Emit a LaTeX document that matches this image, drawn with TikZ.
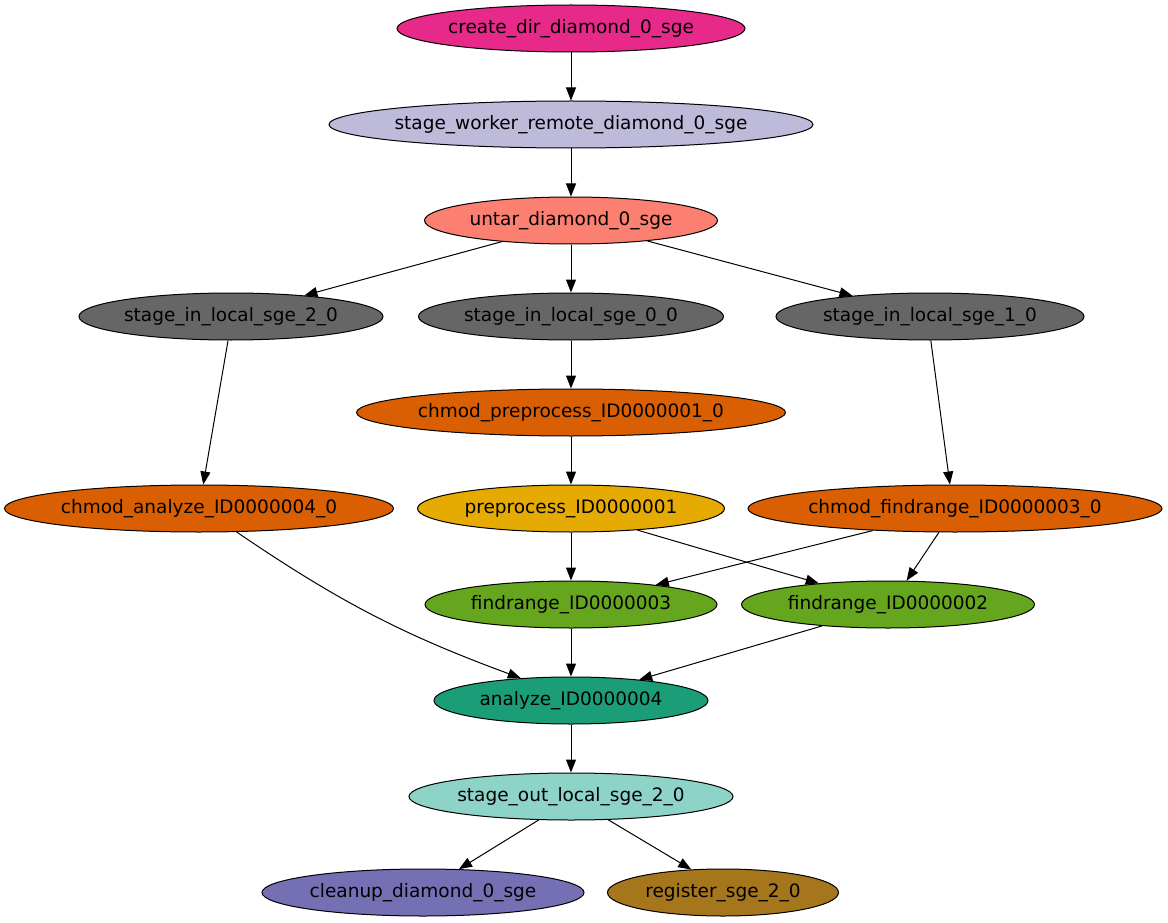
\documentclass[tikz,border=0pt]{standalone}
\usepackage{fontspec}
\setmainfont{DejaVu Sans}
\usetikzlibrary{shapes.geometric,arrows.meta}
\definecolor{cPink}{HTML}{E7298A}
\definecolor{cLav}{HTML}{BEBADA}
\definecolor{cSalmon}{HTML}{FB8072}
\definecolor{cGray}{HTML}{666666}
\definecolor{cOrange}{HTML}{D95F02}
\definecolor{cYellow}{HTML}{E6AB02}
\definecolor{cGreen}{HTML}{66A61E}
\definecolor{cTeal}{HTML}{1B9E77}
\definecolor{cMint}{HTML}{8DD3C7}
\definecolor{cPurple}{HTML}{7570B3}
\definecolor{cBrown}{HTML}{A6761D}
\tikzset{
  gnode/.style={ellipse, draw=black, line width=1pt, inner sep=0pt, minimum height=47pt},
  lbl/.style={font=\fontsize{18.5}{22}\selectfont, text=black, inner sep=0pt},
  every label/.style={lbl},
  edge/.style={line width=1pt, draw=black, -{Triangle[length=13pt,width=10pt]}}
}
\begin{document}
\begin{tikzpicture}[x=1pt,y=-1pt]
\useasboundingbox (0,0) rectangle (1168,923);
\fill[white] (0,0) rectangle (1168,923);

\node[gnode, fill=cPink, minimum width=348pt, label=center:create\_dir\_diamond\_0\_sge] (n1) at (571,28.5) {};
\node[gnode, fill=cLav, minimum width=484pt, label=center:stage\_worker\_remote\_diamond\_0\_sge] (n2) at (571,124.5) {};
\node[gnode, fill=cSalmon, minimum width=293pt, label=center:untar\_diamond\_0\_sge] (n3) at (571,220.5) {};
\node[gnode, fill=cGray, minimum width=304pt, label=center:stage\_in\_local\_sge\_2\_0] (n4) at (231,316.5) {};
\node[gnode, fill=cGray, minimum width=305pt, label=center:stage\_in\_local\_sge\_0\_0] (n5) at (571,316.5) {};
\node[gnode, fill=cGray, minimum width=308pt, label=center:stage\_in\_local\_sge\_1\_0] (n6) at (930,316.5) {};
\node[gnode, fill=cOrange, minimum width=429pt, label=center:chmod\_preprocess\_ID0000001\_0] (n7) at (571,412.5) {};
\node[gnode, fill=cOrange, minimum width=389pt, label=center:chmod\_analyze\_ID0000004\_0] (n8) at (199,508.5) {};
\node[gnode, fill=cYellow, minimum width=307pt, label=center:preprocess\_ID0000001] (n9) at (571,508.5) {};
\node[gnode, fill=cOrange, minimum width=414pt, label=center:chmod\_findrange\_ID0000003\_0] (n10) at (955,508.5) {};
\node[gnode, fill=cGreen, minimum width=292pt, label=center:findrange\_ID0000003] (n11) at (571,604.5) {};
\node[gnode, fill=cGreen, minimum width=293pt, label=center:findrange\_ID0000002] (n12) at (888,604.5) {};
\node[gnode, fill=cTeal, minimum width=274pt, label=center:analyze\_ID0000004] (n13) at (571,700.5) {};
\node[gnode, fill=cMint, minimum width=324pt, label=center:stage\_out\_local\_sge\_2\_0] (n14) at (571,796.5) {};
\node[gnode, fill=cPurple, minimum width=322pt, label=center:cleanup\_diamond\_0\_sge] (n15) at (423,892.5) {};
\node[gnode, fill=cBrown, minimum width=231pt, label=center:register\_sge\_2\_0] (n16) at (723,892.5) {};

\draw[edge] (n1.south) -- (n2.north);
\draw[edge] (n2.south) -- (n3.north);
\draw[edge] (n3.197) -- (n4.16);
\draw[edge] (n3.south) -- (n5.north);
\draw[edge] (n3.345) -- (n6.165);
\draw[edge] (n4.263) -- (n8.80);
\draw[edge] (n5.south) -- (n7.north);
\draw[edge] (n6.272) -- (n10.102);
\draw[edge] (n7.south) -- (n9.north);
\draw[edge] (n8.328) to[bend right=7] (n13.156);
\draw[edge] (n9.south) -- (n11.north);
\draw[edge] (n9.342) -- (n12.163);
\draw[edge] (n10.195) -- (n11.13);
\draw[edge] (n10.236) -- (n12.52);
\draw[edge] (n11.south) -- (n13.north);
\draw[edge] (n12.198) -- (n13.17);
\draw[edge] (n13.south) -- (n14.north);
\draw[edge] (n14.216) -- (n15.33);
\draw[edge] (n14.328) -- (n16.144);
\end{tikzpicture}
\end{document}
